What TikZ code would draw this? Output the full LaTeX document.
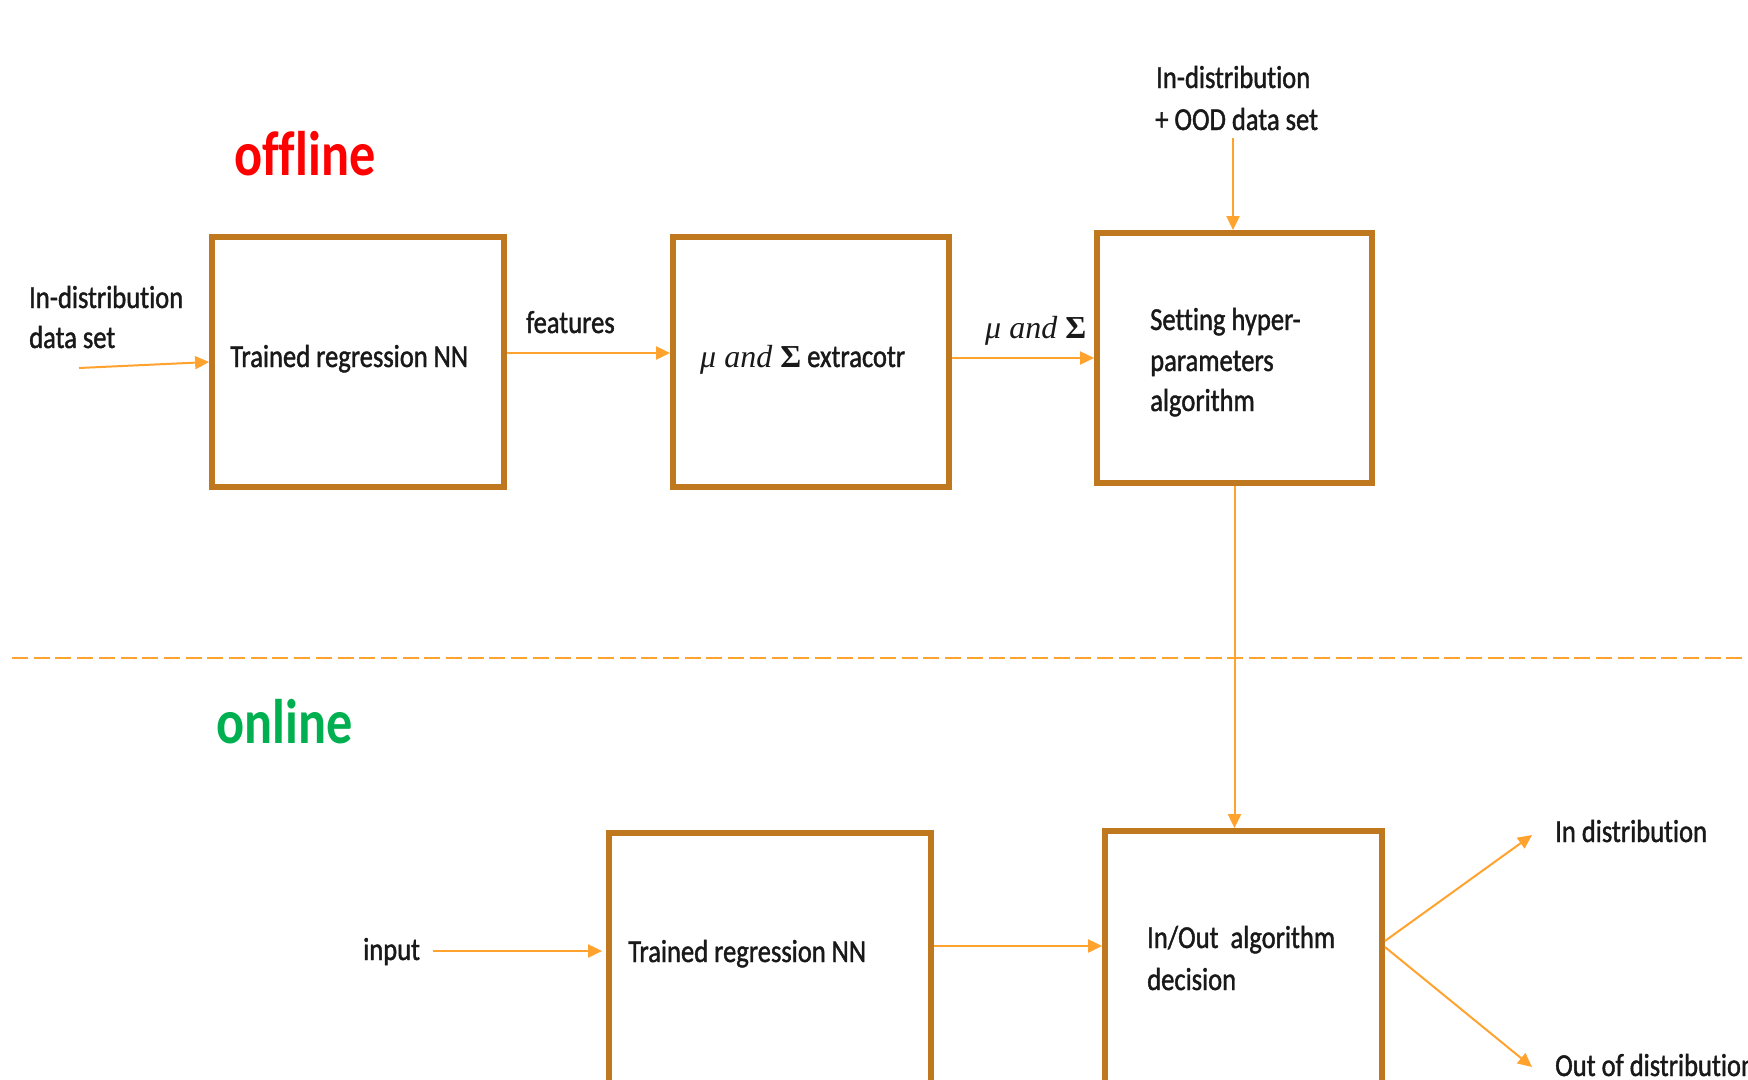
\documentclass[tikz,border=0pt]{standalone}
\usepackage{fontspec}
\setmainfont[FakeStretch=0.83,Ligatures=NoCommon]{Carlito}
\newfontfamily\bodyf[FakeStretch=0.83,Ligatures=NoCommon,FakeBold=1.3]{Carlito}
\newfontfamily\mfont{Liberation Serif}
\usetikzlibrary{arrows.meta}
\definecolor{boxc}{HTML}{C0781F}
\definecolor{arrc}{HTML}{FFA22E}
\definecolor{offc}{HTML}{FF0000}
\definecolor{onc}{HTML}{00B050}
\newcommand{\musig}{{\mfont\itshape μ and }{\mfont\bfseries Σ}}
\begin{document}
\begin{tikzpicture}[x=1pt,y=-1pt,
  blk/.style={draw=boxc, line width=5.8pt, inner sep=0pt},
  arr/.style={draw=arrc, line width=2pt, -{Triangle[length=14pt,width=13pt]}},
  txt/.style={inner sep=0pt, anchor=base west, text=black!90, font=\fontsize{32}{40}\selectfont\bodyf},
  ttl/.style={inner sep=0pt, anchor=base west, font=\fontsize{63}{70}\selectfont\bfseries}]
\useasboundingbox (0,0) rectangle (1748,1079);

% boxes
\node[blk, minimum width=292pt, minimum height=250pt] (b1) at (358,362) {};
\node[blk, minimum width=276pt, minimum height=250pt] (b2) at (811,362) {};
\node[blk, minimum width=275pt, minimum height=250pt] (b3) at (1234.5,358) {};
\node[blk, minimum width=322pt, minimum height=267pt] (b4) at (770,966.5) {};
\node[blk, minimum width=277pt, minimum height=269pt] (b5) at (1243.5,965.5) {};

% titles
\node[ttl, text=offc] (off) at (234,175) {offline};
\node[ttl, text=onc] (on) at (216,743) {online};

% texts
\node[txt] (in1a) at (29,308) {In-distribution};
\node[txt] (in1b) at (29,348) {data set};
\node[txt] (t1) at (230,367) {Trained regression NN};
\node[txt] (feat) at (526,333) {features};
\node[txt] (t2) at (700,367) {\musig\ extracotr};
\node[txt] (ms) at (985,338) {\musig};
\node[txt] (t3a) at (1150,330) {Setting hyper-};
\node[txt] (t3b) at (1150,371) {parameters};
\node[txt] (t3c) at (1150,411) {algorithm};
\node[txt] (ooda) at (1156,88) {In-distribution};
\node[txt] (oodb) at (1155,130) {+ OOD data set};
\node[txt] (inp) at (363,960) {input};
\node[txt] (t4) at (628,962) {Trained regression NN};
\node[txt] (t5a) at (1147,948) {In/Out\ \ algorithm};
\node[txt] (t5b) at (1147,990) {decision};
\node[txt] (ind) at (1555,842) {In distribution};
\node[txt] (outd) at (1555,1076) {Out of distribution};

% coordinates
\coordinate (s1) at (79,368);
\coordinate (s2) at (1233,138);
\coordinate (s3) at (433,951);
\coordinate (lv) at (0,946);
\coordinate (lv2) at (0,941);
\coordinate (lv3) at (0,947);
\coordinate (o1) at (1532,835);
\coordinate (o2) at (1532,1067);
\coordinate (d1) at (12,658);
\coordinate (d2) at (1748,658);

% dashed separator
\draw[draw=arrc, line width=2.4pt, dash pattern=on 16pt off 5.7pt] (d1) -- (d2);

% connectors
\draw[arr] (s1) -- (b1.west);
\draw[arr] ([yshift=9pt]b1.east) -- ([yshift=9pt]b2.west);
\draw[arr] (b2.east |- b3.west) -- (b3.west);
\draw[arr] (s2) -- (s2 |- b3.north);
\draw[arr] (b3.south) -- (b3.south |- b5.north);
\draw[arr, shorten >=4pt] (s3) -- (s3 -| b4.west);
\draw[arr] (b4.east |- lv) -- (b5.west |- lv);
\draw[arr] (b5.east |- lv2) -- (o1);
\draw[arr] (b5.east |- lv3) -- (o2);
\end{tikzpicture}
\end{document}
